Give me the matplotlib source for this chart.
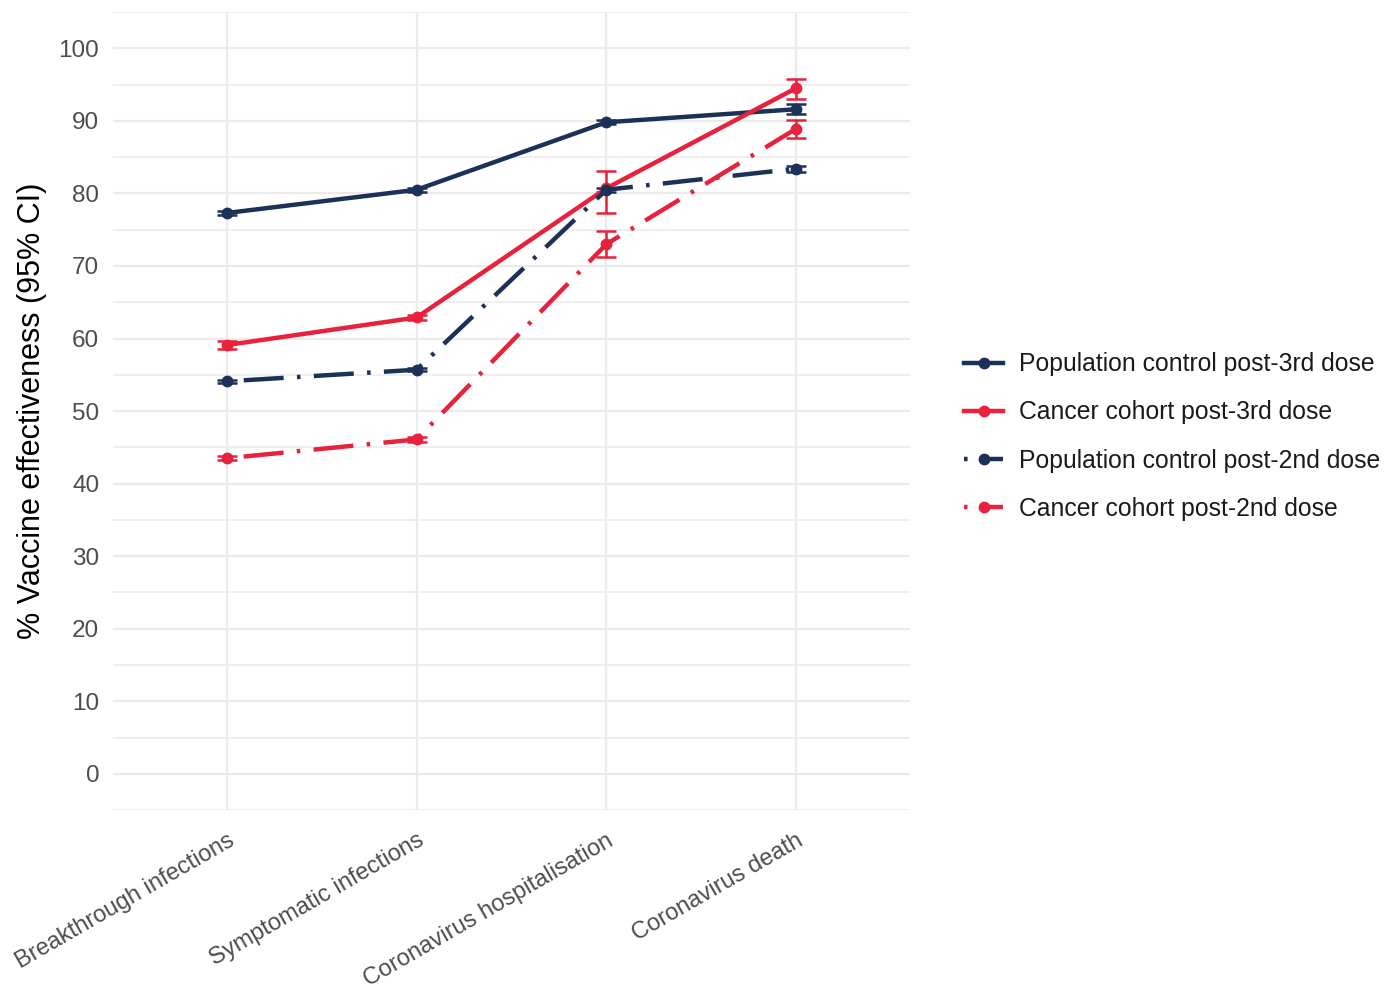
import matplotlib
matplotlib.use('Agg')
import matplotlib.pyplot as plt
from matplotlib.lines import Line2D
import numpy as np

plt.rcParams['font.family'] = ['Liberation Sans', 'DejaVu Sans']

# Outcomes and vaccine effectiveness estimates (%, with 95% CI)
outcomes = ['Breakthrough infections', 'Symptomatic infections',
            'Coronavirus hospitalisation', 'Coronavirus death']

pop_3rd = [77.3, 80.5, 89.8, 91.6]
pop_3rd_lo = [77.0, 80.2, 89.5, 90.9]
pop_3rd_hi = [77.6, 80.8, 90.1, 92.3]

cancer_3rd = [59.1, 62.9, 80.7, 94.5]
cancer_3rd_lo = [58.6, 62.5, 77.3, 93.0]
cancer_3rd_hi = [59.6, 63.3, 83.1, 95.7]

pop_2nd = [54.1, 55.7, 80.5, 83.4]
pop_2nd_lo = [53.9, 55.5, 80.2, 83.0]
pop_2nd_hi = [54.3, 55.9, 80.8, 83.8]

cancer_2nd = [43.5, 46.1, 73.0, 88.9]
cancer_2nd_lo = [43.2, 45.8, 71.3, 87.6]
cancer_2nd_hi = [43.8, 46.4, 74.8, 90.1]

NAVY = '#1c3158'
RED = '#e8213c'
DOTDASH = (0, (0.8, 3, 9, 3))

series = [
    ('Population control post-3rd dose', pop_3rd, pop_3rd_lo, pop_3rd_hi, NAVY, '-'),
    ('Cancer cohort post-3rd dose', cancer_3rd, cancer_3rd_lo, cancer_3rd_hi, RED, '-'),
    ('Population control post-2nd dose', pop_2nd, pop_2nd_lo, pop_2nd_hi, NAVY, DOTDASH),
    ('Cancer cohort post-2nd dose', cancer_2nd, cancer_2nd_lo, cancer_2nd_hi, RED, DOTDASH),
]

fig = plt.figure(figsize=(13.87, 9.99), dpi=100)
ax = fig.add_axes([0.0815, 0.189, 0.5745, 0.799])

x = np.arange(1, len(outcomes) + 1)
handles = []
for label, y, lo, hi, color, ls in series:
    y = np.array(y)
    err = [y - np.array(lo), np.array(hi) - y]
    ax.errorbar(x, y, yerr=err, fmt='none', ecolor=color, elinewidth=1.8,
                capsize=7, capthick=1.8, zorder=3)
    ax.plot(x, y, color=color, linestyle=ls, linewidth=3.2, marker='o',
            markersize=7.5, zorder=4)
    handles.append(Line2D([0], [0], color=color, linestyle=ls, linewidth=3.2,
                          marker='o', markersize=7.5, label=label))

ax.set_xlim(0.4, 4.6)
ax.set_ylim(-5, 105)
ax.set_yticks(np.arange(0, 101, 10))
ax.set_yticks(np.arange(-5, 106, 10), minor=True)
ax.set_xticks(x)
ax.set_xticklabels(outcomes, rotation=30, ha='right', va='top',
                   rotation_mode='anchor')

ax.grid(which='major', color='#ebebeb', linewidth=1.6, zorder=0)
ax.grid(which='minor', axis='y', color='#ebebeb', linewidth=1.1, zorder=0)
ax.set_axisbelow(True)
for s in ax.spines.values():
    s.set_visible(False)
ax.tick_params(which='both', length=0, labelcolor='#4d4d4d', labelsize=17.5)
ax.tick_params(axis='x', labelsize=17)
ax.tick_params(axis='y', pad=10)
ax.tick_params(axis='x', pad=14)

ax.set_ylabel('% Vaccine effectiveness (95% CI)', fontsize=22, color='black',
              labelpad=8)

fig.legend(handles=handles, loc='center left', bbox_to_anchor=(0.686, 0.563),
           frameon=False, fontsize=17.8, handlelength=1.6, handletextpad=0.62,
           labelspacing=0.98, borderpad=0, labelcolor='#1a1a1a')

fig.savefig('out.png', dpi=100)
